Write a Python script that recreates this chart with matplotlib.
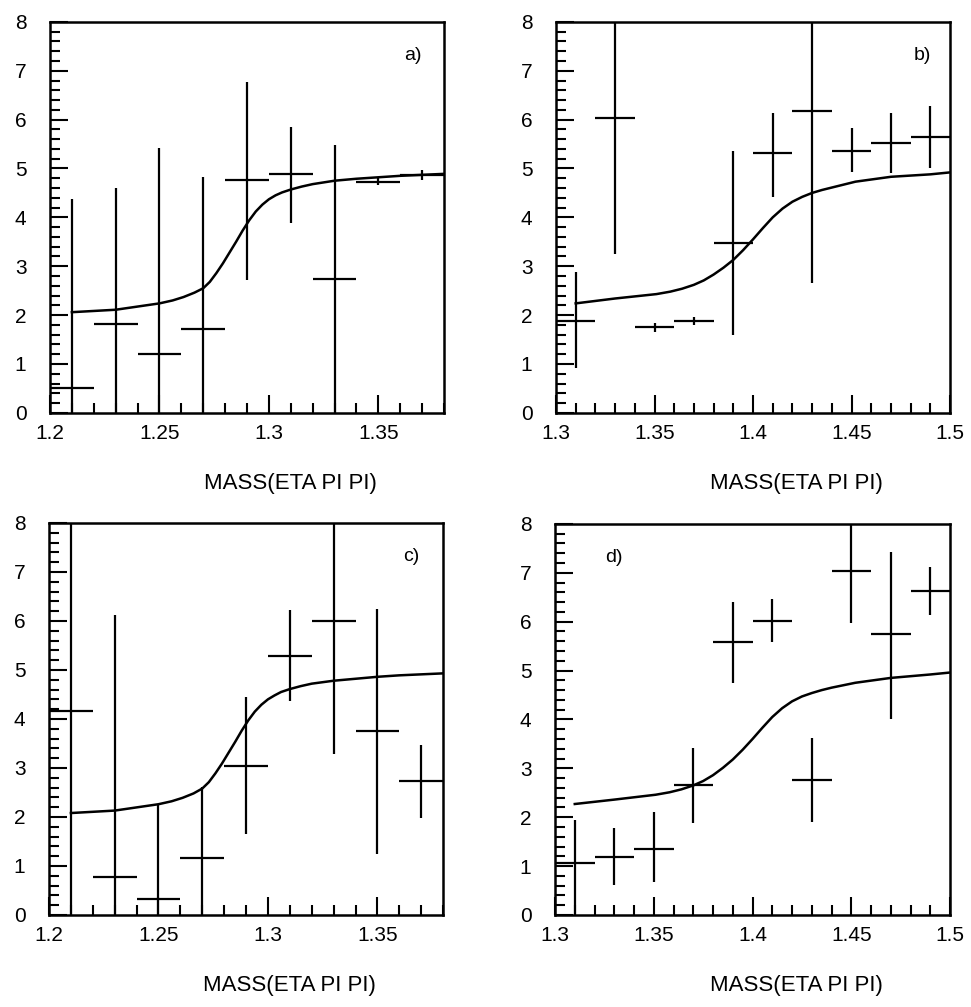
import matplotlib
matplotlib.use("Agg")
import matplotlib.pyplot as plt
from matplotlib.ticker import MultipleLocator, FuncFormatter

plt.rcParams['font.family'] = ['Liberation Sans', 'DejaVu Sans']

# bin centres, half bin width 0.01
xa = [1.21, 1.23, 1.25, 1.27, 1.29, 1.31, 1.33, 1.35, 1.37]
ya = [0.50, 1.82, 1.20, 1.72, 4.77, 4.89, 2.74, 4.73, 4.87]
lo_a = [0, 0, 0, 0, 2.72, 3.88, 0, 4.66, 4.77]
hi_a = [4.38, 4.61, 5.41, 4.82, 6.77, 5.85, 5.48, 4.80, 4.97]

xb = [1.31, 1.33, 1.35, 1.37, 1.39, 1.41, 1.43, 1.45, 1.47, 1.49]
yb = [1.88, 6.03, 1.75, 1.88, 3.47, 5.31, 6.18, 5.36, 5.53, 5.64]
lo_b = [0.92, 3.25, 1.66, 1.79, 1.59, 4.42, 2.65, 4.92, 4.90, 5.01]
hi_b = [2.88, 8.5, 1.84, 1.97, 5.36, 6.14, 9.7, 5.82, 6.14, 6.27]

xc = [1.21, 1.23, 1.25, 1.27, 1.29, 1.31, 1.33, 1.35, 1.37]
yc = [4.17, 0.78, 0.33, 1.16, 3.05, 5.29, 6.00, 3.76, 2.74]
lo_c = [0, 0, 0, 0, 1.65, 4.36, 3.29, 1.24, 1.97]
hi_c = [8.5, 6.13, 2.27, 2.62, 4.44, 6.23, 8.7, 6.25, 3.46]

xd = [1.31, 1.33, 1.35, 1.37, 1.39, 1.41, 1.43, 1.45, 1.47, 1.49]
yd = [1.06, 1.19, 1.35, 2.65, 5.59, 6.02, 2.76, 7.04, 5.74, 6.63]
lo_d = [0, 0.61, 0.68, 1.89, 4.74, 5.59, 1.91, 5.97, 4.00, 6.14]
hi_d = [1.94, 1.77, 2.11, 3.41, 6.41, 6.46, 3.62, 8.1, 7.43, 7.11]

# fitted curves
ca_x = [1.21, 1.23, 1.25, 1.256, 1.261, 1.266, 1.27, 1.273, 1.276, 1.279, 1.282, 1.285,
        1.288, 1.291, 1.294, 1.297, 1.300, 1.303, 1.306, 1.31, 1.315, 1.32, 1.33,
        1.34, 1.35, 1.36, 1.38]
ca_y = [2.06, 2.11, 2.24, 2.30, 2.37, 2.46, 2.55, 2.68, 2.86, 3.06, 3.28, 3.50,
        3.73, 3.94, 4.12, 4.26, 4.37, 4.45, 4.51, 4.57, 4.63, 4.68, 4.75,
        4.79, 4.82, 4.85, 4.89]

cb_x = [1.31, 1.33, 1.351, 1.358, 1.364, 1.37, 1.375, 1.38, 1.385, 1.39, 1.395, 1.40,
        1.405, 1.41, 1.415, 1.42, 1.425, 1.43, 1.435, 1.44, 1.452, 1.47, 1.49, 1.50]
cb_y = [2.24, 2.34, 2.43, 2.48, 2.54, 2.62, 2.71, 2.83, 2.97, 3.13, 3.33, 3.55,
        3.78, 4.00, 4.18, 4.32, 4.42, 4.50, 4.56, 4.61, 4.73, 4.83, 4.88, 4.92]

cc_x = [1.21, 1.23, 1.25, 1.256, 1.261, 1.266, 1.27, 1.273, 1.276, 1.279, 1.282, 1.285,
        1.288, 1.291, 1.294, 1.297, 1.300, 1.303, 1.306, 1.31, 1.315, 1.32, 1.33,
        1.34, 1.35, 1.36, 1.38]
cc_y = [2.08, 2.13, 2.26, 2.32, 2.39, 2.48, 2.58, 2.71, 2.89, 3.09, 3.31, 3.53,
        3.76, 3.97, 4.15, 4.29, 4.40, 4.48, 4.55, 4.61, 4.67, 4.72, 4.78,
        4.82, 4.86, 4.89, 4.93]

cd_x = [1.31, 1.33, 1.351, 1.358, 1.364, 1.37, 1.375, 1.38, 1.385, 1.39, 1.395, 1.40,
        1.405, 1.41, 1.415, 1.42, 1.425, 1.43, 1.435, 1.44, 1.452, 1.47, 1.49, 1.50]
cd_y = [2.27, 2.36, 2.46, 2.51, 2.57, 2.65, 2.74, 2.86, 3.01, 3.18, 3.38, 3.60,
        3.83, 4.05, 4.23, 4.37, 4.47, 4.54, 4.60, 4.65, 4.75, 4.85, 4.92, 4.96]

xlabel = "MASS(ETA PI PI)"

fig = plt.figure(figsize=(9.71, 10.07), dpi=100)

panels = [
    ([0.0515, 0.590, 0.4058, 0.3883], xa, ya, lo_a, hi_a, ca_x, ca_y, (1.2, 1.38), "a)", 0.92),
    ([0.5726, 0.590, 0.4058, 0.3883], xb, yb, lo_b, hi_b, cb_x, cb_y, (1.3, 1.5), "b)", 0.93),
    ([0.0505, 0.0914, 0.4058, 0.3893], xc, yc, lo_c, hi_c, cc_x, cc_y, (1.2, 1.38), "c)", 0.92),
    ([0.5716, 0.0914, 0.4068, 0.3883], xd, yd, lo_d, hi_d, cd_x, cd_y, (1.3, 1.5), "d)", 0.15),
]

for rect, x, y, lo, hi, cx, cy, xl, tag, tx in panels:
    ax = fig.add_axes(rect)
    yerr = [[v - l for v, l in zip(y, lo)], [h - v for v, h in zip(y, hi)]]
    ax.errorbar(x, y, xerr=0.01, yerr=yerr, fmt='none', ecolor='black',
                elinewidth=1.6, capsize=0)
    ax.plot(cx, cy, color='black', lw=1.8)
    ax.set_xlim(*xl)
    ax.set_ylim(0, 8)
    ax.xaxis.set_major_locator(MultipleLocator(0.05))
    ax.xaxis.set_minor_locator(MultipleLocator(0.01))
    ax.yaxis.set_major_locator(MultipleLocator(1))
    ax.yaxis.set_minor_locator(MultipleLocator(0.2))
    ax.xaxis.set_major_formatter(FuncFormatter(lambda v, p: "%g" % round(v, 3)))
    ax.tick_params(which='both', direction='in', top=False, right=False, width=1.5)
    ax.tick_params(which='major', length=13)
    ax.tick_params(which='minor', length=7)
    ax.tick_params(axis='y', which='major', pad=17, labelsize=15)
    ax.tick_params(axis='x', which='major', pad=8, labelsize=15)
    for s in ax.spines.values():
        s.set_linewidth(1.8)
    ax.text(tx, 0.915, tag, transform=ax.transAxes, fontsize=14, ha='center', va='center')
    ax.text(0.61, -0.18, xlabel, transform=ax.transAxes, fontsize=16, ha='center', va='center')

fig.savefig("out.png", dpi=100)
